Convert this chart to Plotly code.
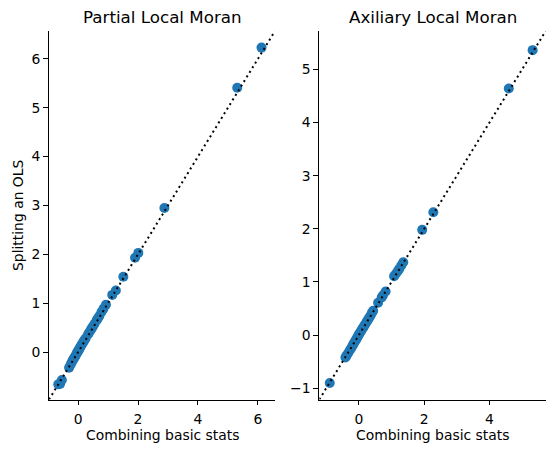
import plotly.graph_objects as go

# Partial Local Moran: combining basic stats (x) vs splitting an OLS (y)
partial_x = [-0.66, -0.60, -0.54, -0.30, -0.25, -0.21, -0.18, -0.15, -0.12, -0.10,
             -0.07, -0.05, -0.03, -0.01, 0.01, 0.03, 0.05, 0.07, 0.09, 0.12,
             0.15, 0.18, 0.21, 0.25, 0.33, 0.37, 0.42, 0.46, 0.50, 0.55,
             0.62, 0.66, 0.71, 0.78, 0.85, 0.93, 1.14, 1.26, 1.51, 1.90,
             2.01, 2.88, 5.31, 6.12]
partial_y = [-0.66, -0.65, -0.57, -0.32, -0.26, -0.21, -0.17, -0.14, -0.11, -0.09,
             -0.06, -0.03, -0.01, 0.01, 0.03, 0.05, 0.08, 0.10, 0.12, 0.15,
             0.18, 0.21, 0.24, 0.28, 0.36, 0.40, 0.45, 0.49, 0.53, 0.58,
             0.65, 0.69, 0.74, 0.82, 0.89, 0.97, 1.17, 1.26, 1.54, 1.93,
             2.03, 2.95, 5.41, 6.23]

# Axiliary Local Moran
aux_x = [-0.89, -0.41, -0.38, -0.33, -0.28, -0.24, -0.20, -0.17, -0.14, -0.11,
         -0.08, -0.05, -0.03, 0.00, 0.02, 0.05, 0.08, 0.11, 0.14, 0.17,
         0.20, 0.24, 0.28, 0.32, 0.36, 0.40, 0.44, 0.59, 0.70, 0.74,
         0.82, 1.08, 1.14, 1.20, 1.24, 1.30, 1.36, 1.94, 2.28, 4.59, 5.32]
aux_y = [-0.90, -0.42, -0.39, -0.34, -0.29, -0.25, -0.21, -0.17, -0.14, -0.11,
         -0.08, -0.05, -0.02, 0.01, 0.03, 0.06, 0.09, 0.12, 0.15, 0.18,
         0.21, 0.25, 0.29, 0.33, 0.37, 0.42, 0.46, 0.61, 0.71, 0.75,
         0.82, 1.11, 1.16, 1.21, 1.25, 1.31, 1.37, 1.98, 2.31, 4.64, 5.36]

# shared x/y limits of each panel (identity line runs corner to corner)
partial_lim = [-0.97, 6.57]
aux_lim = [-1.21, 5.72]

titles = ["Partial Local Moran", "Axiliary Local Moran"]
xlabel = "Combining basic stats"
ylabel = "Splitting an OLS"

blue = "#1f77b4"
font = dict(family="DejaVu Sans", size=13.9, color="black")

# the page body has an 8px margin, so the figure is sized to fit inside it
OFF = 8
W, H = 554 - 2 * OFF, 454 - 2 * OFF


def fx(sx):
    return (sx - OFF) / W


def fy(sy):
    return 1 - (sy - OFF) / H


fig = go.Figure()

panels = [(partial_x, partial_y, partial_lim, "x", "y"),
          (aux_x, aux_y, aux_lim, "x2", "y2")]
for xs, ys, lim, xa, ya in panels:
    fig.add_trace(go.Scatter(
        x=xs, y=ys, mode="markers", xaxis=xa, yaxis=ya,
        marker=dict(color=blue, size=10, line=dict(width=0)),
        showlegend=False, hoverinfo="skip"
    ))
    fig.add_trace(go.Scatter(
        x=lim, y=lim, mode="lines", xaxis=xa, yaxis=ya,
        line=dict(color="black", width=2, dash="2px,3.4px"),
        showlegend=False, hoverinfo="skip"
    ))

left_dom = [fx(49), fx(275)]
right_dom = [fx(319.3), fx(545.7)]
y_dom = [fy(399.5), fy(31)]

axis_style = dict(
    showline=True, linecolor="black", linewidth=1.1,
    ticks="outside", ticklen=4.9, tickwidth=1.1, tickcolor="black",
    showgrid=False, zeroline=False, mirror=False,
    tickfont=font,
)
x_style = dict(axis_style, ticklabelstandoff=2)

fig.update_layout(
    width=W, height=H,
    margin=dict(l=0, r=0, t=0, b=0),
    paper_bgcolor="white", plot_bgcolor="white",
    font=font,
    xaxis=dict(domain=left_dom, range=partial_lim, dtick=2, anchor="y", **x_style),
    yaxis=dict(domain=y_dom, range=partial_lim, dtick=1, anchor="x", **axis_style),
    xaxis2=dict(domain=right_dom, range=aux_lim, dtick=2, anchor="y2", **x_style),
    yaxis2=dict(domain=y_dom, range=aux_lim, dtick=1, anchor="x2", **axis_style),
)

annotations = []
for i, dom in enumerate([left_dom, right_dom]):
    cx = (dom[0] + dom[1]) / 2
    annotations.append(dict(
        text=titles[i], x=cx, y=fy(16.5), xref="paper", yref="paper",
        showarrow=False, xanchor="center", yanchor="middle",
        font=dict(family="DejaVu Sans", size=16.7, color="black")
    ))
    annotations.append(dict(
        text=xlabel, x=cx, y=fy(435), xref="paper", yref="paper",
        showarrow=False, xanchor="center", yanchor="middle", font=font
    ))
annotations.append(dict(
    text=ylabel, x=fx(18), y=fy(215), xref="paper", yref="paper",
    showarrow=False, xanchor="center", yanchor="middle", textangle=-90, font=font
))
fig.update_layout(annotations=annotations)

fig.write_html("out.html")
